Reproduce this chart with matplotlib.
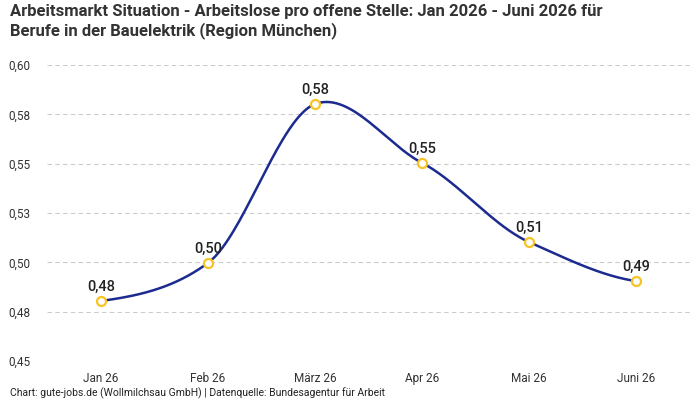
import numpy as np
import matplotlib
matplotlib.use("Agg")
import matplotlib.pyplot as plt
from matplotlib.ticker import FuncFormatter
from decimal import Decimal, ROUND_HALF_UP

categories = ["Jan 26", "Feb 26", "März 26", "Apr 26", "Mai 26", "Juni 26"]
values = [0.4804, 0.4997, 0.5802, 0.5504, 0.5103, 0.4905]
yticks = [0.45, 0.475, 0.50, 0.525, 0.55, 0.575, 0.60]

title = ("Arbeitsmarkt Situation - Arbeitslose pro offene Stelle: Jan 2026 - Juni 2026 für\n"
         "Berufe in der Bauelektrik (Region München)")
footer = "Chart: gute-jobs.de (Wollmilchsau GmbH) | Datenquelle: Bundesagentur für Arbeit"


def fmt(v):
    d = Decimal(str(round(v, 6))).quantize(Decimal("0.01"), rounding=ROUND_HALF_UP)
    return str(d).replace(".", ",")


plt.rcParams['font.family'] = ['Roboto', 'DejaVu Sans']

fig = plt.figure(figsize=(7, 4), dpi=100)
ax = fig.add_axes([47.5/700, 1-361/400, 642/700, (361-65)/400])

x = np.arange(len(values))
y = np.array(values)
# smooth curve through the points (cardinal spline)
yp = np.concatenate([[y[0]], y, [y[-1]]])
m = 0.8 * (yp[2:] - yp[:-2]) / 2.0
xs, ys = [], []
for i in range(len(y) - 1):
    t = np.linspace(0, 1, 60)
    h00 = 2*t**3 - 3*t**2 + 1
    h10 = t**3 - 2*t**2 + t
    h01 = -2*t**3 + 3*t**2
    h11 = t**3 - t**2
    xs.append(x[i] + t)
    ys.append(h00*y[i] + h10*m[i] + h01*y[i+1] + h11*m[i+1])
xs = np.concatenate(xs)
ys = np.concatenate(ys)

ax.plot(xs, ys, color="#1c2b8f", lw=1.8, zorder=3, clip_on=False)
ax.plot(x, y, 'o', ms=6.5, mfc="white", mec="#f7c325", mew=1.6, zorder=4, clip_on=False)

for xi, yi in zip(x, y):
    ax.annotate(fmt(yi), (xi, yi), xytext=(0, 5),
                textcoords="offset points", ha="center", va="bottom",
                fontsize=10.5, fontweight="medium", color="#222222")

ax.set_xlim(-0.5, len(values) - 0.5)
ax.set_ylim(0.45, 0.60)
ax.set_yticks(yticks)
ax.yaxis.set_major_formatter(FuncFormatter(lambda v, p: fmt(v)))
ax.set_xticks(x)
ax.set_xticklabels(categories)
ax.tick_params(axis="both", length=0, labelsize=8.5, colors="#333333")
ax.tick_params(axis="y", pad=12)
ax.tick_params(axis="x", pad=8)
for s in ax.spines.values():
    s.set_visible(False)
ax.grid(axis="y", color="#cccccc", ls=(0, (4, 3)), lw=0.8)
ax.set_axisbelow(True)

fig.text(10/700, 1-4/400, title, ha="left", va="top", fontsize=12,
         fontweight="bold", color="#333333", linespacing=1.2)
fig.text(10/700, 1-393/400, footer, ha="left", va="center", fontsize=7.5,
         color="#222222")

fig.savefig("out.png", dpi=100)
